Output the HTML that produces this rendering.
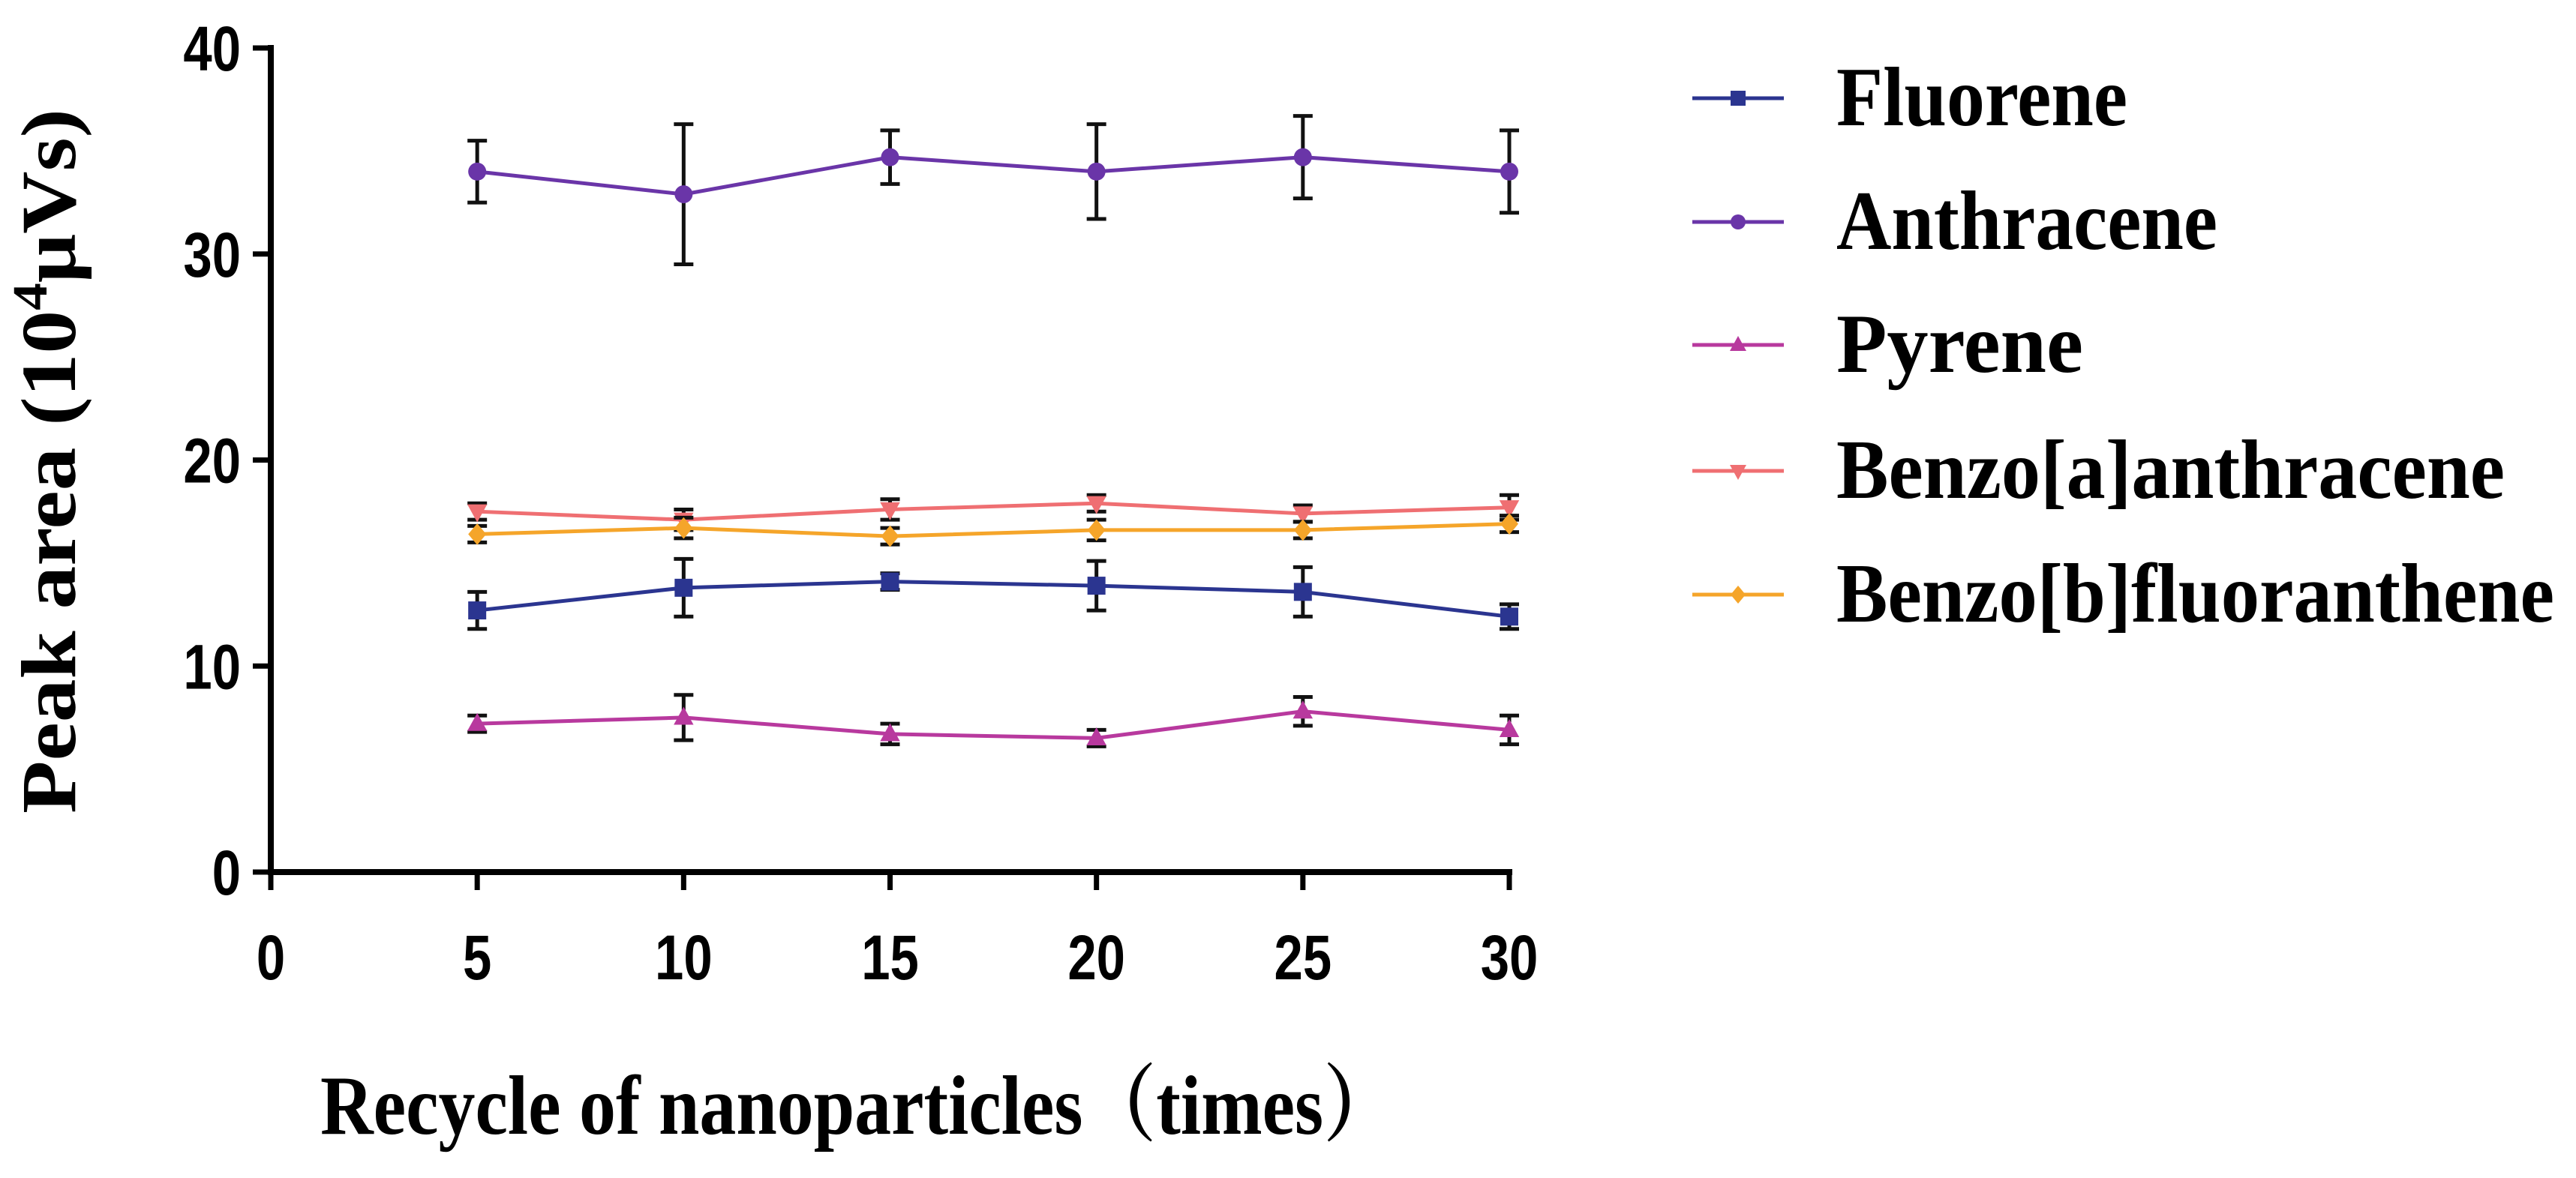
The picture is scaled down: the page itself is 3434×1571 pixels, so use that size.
<!DOCTYPE html>
<html><head><meta charset="utf-8"><style>
body{margin:0;background:#fff}
svg{display:block}
</style></head><body>
<svg id="chart" width="3434" height="1571" viewBox="0 0 3434 1571" xmlns="http://www.w3.org/2000/svg">
<g id="plot"></g>
<text transform="translate(100,615) rotate(-90)" text-anchor="middle" font-family="Liberation Serif, serif" font-weight="bold" font-size="104" textLength="940" lengthAdjust="spacingAndGlyphs">Peak area (10<tspan font-size="66" dy="-38">4</tspan><tspan dy="38">μVs)</tspan></text>
<text x="427" y="1512" font-family="Liberation Serif, 'Noto Serif CJK SC', serif" font-weight="bold" font-size="112" textLength="1435" lengthAdjust="spacingAndGlyphs">Recycle of nanoparticles（times）</text>
<g id="legend"></g>
</svg>
<script>
const xValues=[5,10,15,20,25,30];
const seriesNames=["Fluorene","Anthracene","Pyrene","Benzo[a]anthracene","Benzo[b]fluoranthene"];
const fluorene=[12.7,13.8,14.1,13.9,13.6,12.4];
const fluoreneErr=[0.9,1.4,0.4,1.2,1.2,0.6];
const anthracene=[34.0,32.9,34.7,34.0,34.7,34.0];
const anthraceneErr=[1.5,3.4,1.3,2.3,2.0,2.0];
const pyrene=[7.2,7.5,6.7,6.5,7.8,6.9];
const pyreneErr=[0.4,1.1,0.5,0.4,0.7,0.7];
const benzoA=[17.5,17.1,17.6,17.9,17.4,17.7];
const benzoAErr=[0.4,0.5,0.5,0.4,0.4,0.6];
const benzoB=[16.4,16.7,16.3,16.6,16.6,16.9];
const benzoBErr=[0.4,0.5,0.4,0.5,0.4,0.4];
const xTicks=[0,5,10,15,20,25,30];
const yTicks=[0,10,20,30,40];

const NS="http://www.w3.org/2000/svg";
const X0=361,X1=2012,Y0=1163,Y1=64;
const xs=v=>X0+(v-0)/30*(X1-X0);
const ys=v=>Y0-(v-0)/40*(Y0-Y1);
function mk(tag,attrs,parent){const e=document.createElementNS(NS,tag);for(const k in attrs)e.setAttribute(k,attrs[k]);parent.appendChild(e);return e;}
const plot=document.getElementById('plot');
const legend=document.getElementById('legend');
const colors=["#2b3590","#6a35a8","#b8399e","#ef6f72","#f5a52a"];
const data=[fluorene,anthracene,pyrene,benzoA,benzoB];
const errs=[fluoreneErr,anthraceneErr,pyreneErr,benzoAErr,benzoBErr];
const shapes=["square","circle","tri","tridown","diamond"];

let ax=mk('line',{x1:X0,y1:Y0,x2:X1+4,y2:Y0,stroke:'#000','stroke-width':8},plot);


let ay=mk('line',{x1:X0,y1:Y0+4,x2:X0,y2:Y1-4,stroke:'#000','stroke-width':8},plot);


xTicks.forEach(t=>{
  const l=mk('line',{x1:xs(t),y1:Y0,x2:xs(t),y2:Y0+24,stroke:'#000','stroke-width':7},plot);
  
  
  const tx=mk('text',{x:0,y:0,transform:`translate(${xs(t)},1306) scale(0.82,1)`,'text-anchor':'middle','font-family':'Liberation Sans, sans-serif','font-weight':'bold','font-size':84},plot);
  
  
  tx.textContent=t;
});
yTicks.forEach(t=>{
  const l=mk('line',{x1:X0-24,y1:ys(t),x2:X0,y2:ys(t),stroke:'#000','stroke-width':7},plot);
  
  
  const tx=mk('text',{x:0,y:0,transform:`translate(${X0-40},${ys(t)+30}) scale(0.82,1)`,'text-anchor':'end','font-family':'Liberation Sans, sans-serif','font-weight':'bold','font-size':84},plot);
  
  
  tx.textContent=t;
});
function marker(shape,x,y,c,parent,r){
  let e;
  if(shape==='square')e=mk('rect',{x:x-r,y:y-r,width:2*r,height:2*r,fill:c},parent);
  else if(shape==='circle')e=mk('circle',{cx:x,cy:y,r:r,fill:c},parent);
  else if(shape==='tri')e=mk('polygon',{points:`${x},${y-r*1.2} ${x-r*1.1},${y+r*0.8} ${x+r*1.1},${y+r*0.8}`,fill:c},parent);
  else if(shape==='tridown')e=mk('polygon',{points:`${x},${y+r*1.2} ${x-r*1.1},${y-r*0.8} ${x+r*1.1},${y-r*0.8}`,fill:c},parent);
  else e=mk('polygon',{points:`${x},${y-r*1.2} ${x+r},${y} ${x},${y+r*1.2} ${x-r},${y}`,fill:c},parent);
  return e;
}
data.forEach((s,i)=>{
  const g=mk('g',{},plot);
  
  
  const pts=s.map((v,j)=>xs(xValues[j])+','+ys(v)).join(' ');
  const pl=mk('polyline',{points:pts,fill:'none',stroke:colors[i],'stroke-width':5},g);
  
  
  s.forEach((v,j)=>{
    const x=xs(xValues[j]),yt=ys(v+errs[i][j]),yb=ys(v-errs[i][j]);
    const eb=mk('path',{d:`M${x},${yt}V${yb}M${x-13},${yt}H${x+13}M${x-13},${yb}H${x+13}`,stroke:'#111','stroke-width':5,fill:'none'},g);
    
    
    const m=marker(shapes[i],x,ys(v),colors[i],g,12);
    
    
  });
});
const legY=[131,296,460,628,793];
const legW=[388,508,329,891,957];
seriesNames.forEach((n,i)=>{
  const g=mk('g',{},legend);
  
  
  mk('line',{x1:2256,y1:legY[i],x2:2378,y2:legY[i],stroke:colors[i],'stroke-width':5},g);
  marker(shapes[i],2317,legY[i],colors[i],g,10);
  const t=mk('text',{x:2448,y:legY[i]+36,'font-family':'Liberation Serif, serif','font-weight':'bold','font-size':112,textLength:legW[i],lengthAdjust:'spacingAndGlyphs'},g);
  t.textContent=n;
});
</script>
</body></html>
